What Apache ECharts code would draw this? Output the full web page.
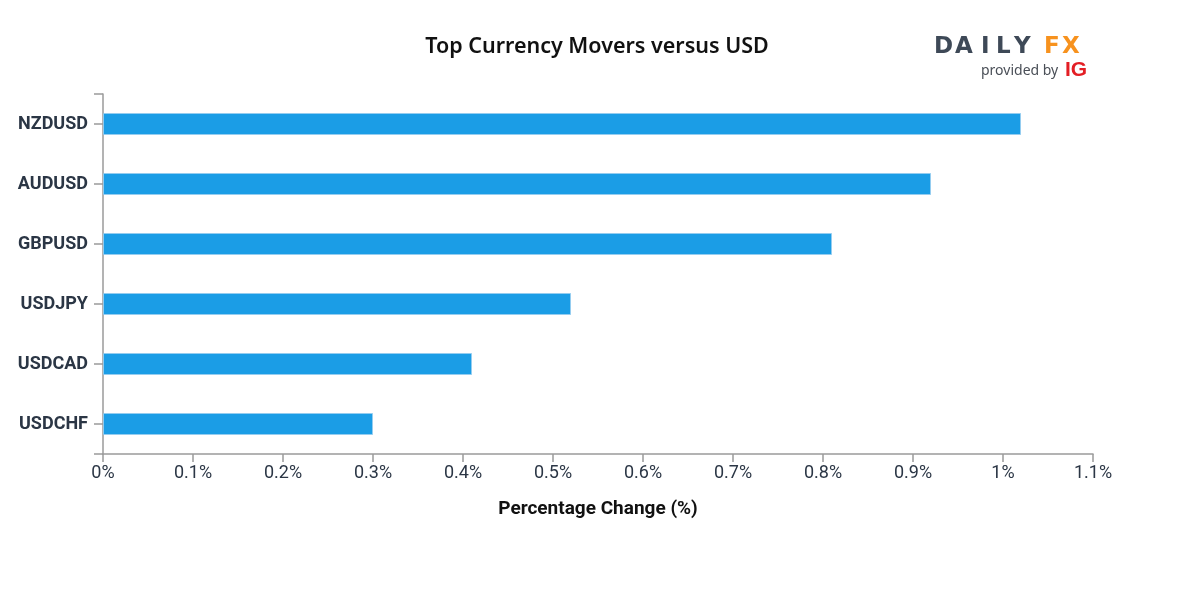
<!DOCTYPE html>
<html>
<head>
<meta charset="utf-8">
<script src="https://cdn.jsdelivr.net/npm/echarts@6/dist/echarts.min.js"></script>
<style>
html,body{margin:0;padding:0;background:#fff;}
#chart{width:1200px;height:600px;}
</style>
</head>
<body>
<div id="chart"></div>
<script>
const categories = ['NZDUSD', 'AUDUSD', 'GBPUSD', 'USDJPY', 'USDCAD', 'USDCHF'];
const values = [1.02, 0.92, 0.81, 0.52, 0.41, 0.30];
const xTicks = [0, 0.1, 0.2, 0.3, 0.4, 0.5, 0.6, 0.7, 0.8, 0.9, 1.0, 1.1];
const titleText = 'Top Currency Movers versus USD';
const xAxisTitle = 'Percentage Change (%)';

const axisGray = '#9a9a9a';
const textDark = '#2b3645';

const chart = echarts.init(document.getElementById('chart'));

const logoLetters = [
  {t: 'D', x: 934, c: '#3e4957'},
  {t: 'A', x: 955, c: '#3e4957'},
  {t: 'I', x: 981, c: '#3e4957'},
  {t: 'L', x: 996, c: '#3e4957'},
  {t: 'Y', x: 1014, c: '#3e4957'},
  {t: 'F', x: 1044, c: '#f7921e'},
  {t: 'X', x: 1062, c: '#f7921e'}
];

const graphics = logoLetters.map(l => ({
  type: 'text', left: l.x, top: 36,
  style: {text: l.t, fill: l.c, font: 'bold 23px "DejaVu Sans", sans-serif'}
}));
graphics.push({
  type: 'text', left: 981, top: 64,
  style: {text: 'provided by', fill: '#4a4f57', font: '14px "Noto Sans", sans-serif'}
});
graphics.push({
  type: 'text', left: 1065, top: 60,
  style: {text: 'IG', fill: '#e31e24', font: 'bold 21px "Liberation Sans", sans-serif'}
});
graphics.push({
  type: 'text', x: 597, y: 36,
  style: {text: titleText, fill: '#111111', textAlign: 'center', font: '600 21.5px "Noto Sans", sans-serif'}
});

chart.setOption({
  animation: false,
  backgroundColor: '#ffffff',
  graphic: graphics,
  grid: {left: 103, right: 107, top: 94, bottom: 146, containLabel: false},
  xAxis: {
    type: 'value', min: 0, max: 1.1, interval: 0.1,
    name: xAxisTitle, nameLocation: 'middle', nameGap: 46,
    nameTextStyle: {fontFamily: 'Roboto, sans-serif', fontWeight: 'bold', fontSize: 19, color: '#111111'},
    axisLine: {show: true, lineStyle: {color: axisGray, width: 1.5}},
    axisTick: {show: true, length: 8, lineStyle: {color: axisGray, width: 1.5}},
    splitLine: {show: false},
    axisLabel: {
      margin: 10, fontFamily: 'Roboto, sans-serif', fontSize: 18, color: textDark,
      formatter: v => (Math.round(v * 10) / 10) + '%'
    }
  },
  yAxis: [{
    type: 'category', data: categories, inverse: true,
    axisLine: {show: true, lineStyle: {color: axisGray, width: 1.5}},
    axisTick: {show: true, alignWithLabel: true, length: 9, lineStyle: {color: axisGray, width: 1.5}},
    axisLabel: {margin: 15, fontFamily: 'Roboto, sans-serif', fontWeight: 'bold', fontSize: 18, color: textDark}
  }, {
    type: 'value', min: 0, max: 1, interval: 1, position: 'left',
    axisLine: {show: false},
    axisTick: {show: true, length: 9, lineStyle: {color: axisGray, width: 1.5}},
    axisLabel: {show: false},
    splitLine: {show: false}
  }],
  series: [{
    type: 'bar', data: values, barWidth: 22, yAxisIndex: 0,
    itemStyle: {color: '#1b9de6', borderColor: 'rgba(150,205,240,0.9)', borderWidth: 1}
  }]
});
</script>
</body>
</html>
